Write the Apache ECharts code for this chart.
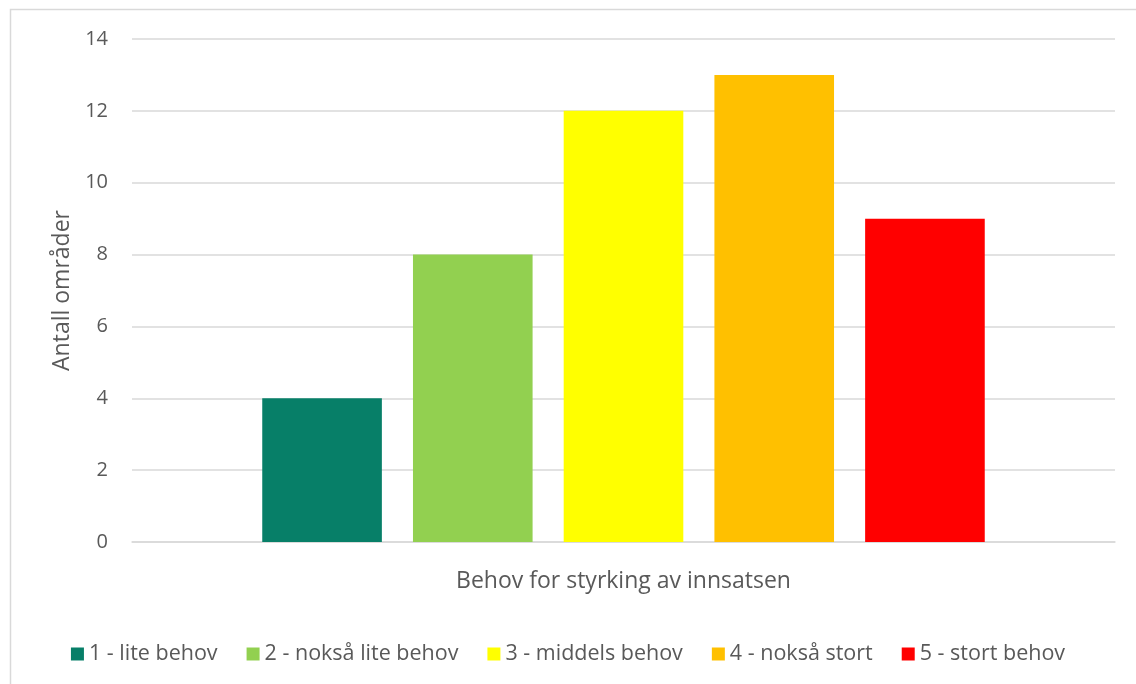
<!DOCTYPE html>
<html><head><meta charset="utf-8">
<script src="https://cdn.jsdelivr.net/npm/echarts@6/dist/echarts.min.js"></script>
<style>html,body{margin:0;padding:0;background:#fff}#c{width:1136px;height:684px}</style>
</head><body><div id="c"></div>
<script>
const categories = [''];
const seriesNames = ['1 - lite behov', '2 - nokså lite behov', '3 - middels behov', '4 - nokså stort', '5 - stort behov'];
const seriesValues = [4, 8, 12, 13, 9];
const seriesColors = ['#077F68', '#92D050', '#FFFF00', '#FFC000', '#FF0000'];
const yTicks = [0, 2, 4, 6, 8, 10, 12, 14];
const xTitle = 'Behov for styrking av innsatsen';
const yTitle = 'Antall områder';

const font = 'Open Sans';
const chart = echarts.init(document.getElementById('c'), null, {renderer: 'canvas'});
chart.setOption({
  animation: false,
  textStyle: {fontFamily: font, color: '#595959'},
  graphic: [{type: 'rect', shape: {x: 10.5, y: 9.5, width: 1140, height: 700}, style: {fill: 'none', stroke: '#d9d9d9', lineWidth: 1.5}, silent: true}],
  grid: {left: 132, right: 21, top: 39, bottom: 142, containLabel: false},
  legend: {
    bottom: 14, left: 'center', itemWidth: 13, itemHeight: 13, itemGap: 29,
    icon: 'rect', textStyle: {fontSize: 21.5, color: '#595959', fontFamily: font},
    data: seriesNames
  },
  xAxis: {
    type: 'category', data: categories,
    axisLine: {lineStyle: {color: '#d9d9d9', width: 1.5}}, axisTick: {show: false}, axisLabel: {show: false},
    name: xTitle, nameLocation: 'middle', nameGap: 28,
    nameTextStyle: {fontSize: 23, color: '#595959', fontFamily: font}
  },
  yAxis: {
    type: 'value', min: yTicks[0], max: yTicks[yTicks.length - 1], interval: 2,
    axisLine: {show: false}, axisTick: {show: false},
    axisLabel: {fontSize: 20, color: '#595959', margin: 24, fontFamily: font},
    splitLine: {lineStyle: {color: '#d9d9d9', width: 1.5}},
    name: yTitle, nameLocation: 'middle', nameGap: 58, nameRotate: 90,
    nameTextStyle: {fontSize: 23, color: '#595959', fontFamily: font}
  },
  series: seriesNames.map((n, i) => ({
    name: n, type: 'bar', data: [seriesValues[i]],
    itemStyle: {color: seriesColors[i]},
    barGap: '26%', barCategoryGap: '26.5%'
  }))
});
</script></body></html>
